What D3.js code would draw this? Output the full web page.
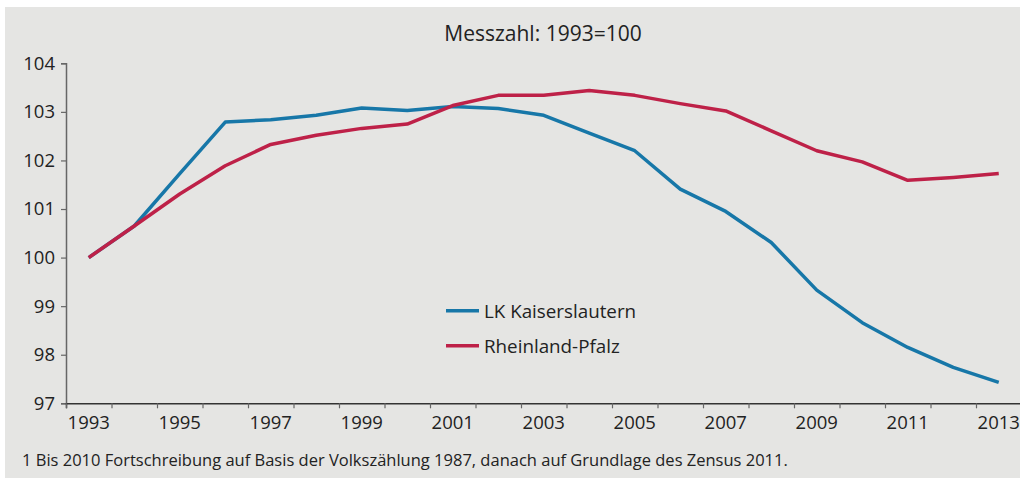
<!DOCTYPE html>
<html><head><meta charset="utf-8">
<script src="https://cdn.jsdelivr.net/npm/d3@7"></script>
<style>
html,body{margin:0;padding:0;background:#fff;}
svg{display:block;font-family:"Open Sans",sans-serif;}
</style></head>
<body><svg id="c" width="1020" height="478"></svg>
<script>
const years = d3.range(1993, 2014);
const kaiserslautern = [100.0,100.65,101.73,102.79,102.84,102.93,103.08,103.03,103.11,103.07,102.93,102.56,102.20,101.41,100.95,100.31,99.33,98.66,98.15,97.74,97.43];
const rheinlandPfalz = [100.0,100.65,101.31,101.89,102.33,102.52,102.66,102.75,103.13,103.34,103.34,103.44,103.34,103.17,103.02,102.61,102.20,101.97,101.59,101.65,101.73];
const yTicks = [97,98,99,100,101,102,103,104];
const seriesNames = ["LK Kaiserslautern","Rheinland-Pfalz"];
const colors = ["#1777a8","#be2148"];
const title = "Messzahl: 1993=100";
const footnote = "1 Bis 2010 Fortschreibung auf Basis der Volkszählung 1987, danach auf Grundlage des Zensus 2011.";

const svg = d3.select("#c");
svg.append("rect").attr("x",5).attr("y",7).attr("width",1015).attr("height",471).attr("fill","#e5e5e3");

const x0 = 66, x1 = 1021.5, yTop = 63.3, yBot = 403.3;
const x = d3.scaleBand().domain(years).range([x0,x1]).padding(0);
const xb = d3.scaleLinear().domain([0, years.length]).range([x0,x1]);
const y = d3.scaleLinear().domain([97,104]).range([yBot,yTop]);

// y axis
const ya = svg.append("g").attr("transform",`translate(${x0},0)`)
  .call(d3.axisLeft(y).tickValues(yTicks).tickSize(5).tickPadding(6).tickFormat(d3.format("d")));
ya.select(".domain").attr("stroke","#666").attr("stroke-width",1.5);
ya.selectAll(".tick line").attr("stroke","#666").attr("stroke-width",1.2);
ya.selectAll("text").attr("font-size",18.5).attr("fill","#222").attr("font-family","Open Sans");

// x axis boundary ticks
const xt = svg.append("g").attr("transform",`translate(0,${yBot})`)
  .call(d3.axisBottom(xb).tickValues(d3.range(years.length+1)).tickSize(5).tickFormat(""));
xt.select(".domain").attr("stroke","#333").attr("stroke-width",1.5);
xt.selectAll(".tick line").attr("stroke","#666").attr("stroke-width",1.2);

// x labels
const xl = svg.append("g").attr("transform",`translate(0,${yBot})`)
  .call(d3.axisBottom(x).tickValues(years.filter(d=>d%2===1)).tickSize(0).tickPadding(13));
xl.select(".domain").remove();
xl.selectAll("text").attr("font-size",18.5).attr("fill","#222").attr("font-family","Open Sans");

// lines
const line = d3.line().x((d,i)=>x(years[i])+x.bandwidth()/2).y(d=>y(d));
[kaiserslautern, rheinlandPfalz].forEach((s,i)=>{
  svg.append("path").datum(s).attr("d",line).attr("fill","none")
    .attr("stroke",colors[i]).attr("stroke-width",3.5).attr("stroke-linejoin","round");
});

// title
svg.append("text").attr("x",543).attr("y",40.5).attr("text-anchor","middle")
  .attr("font-size",21).attr("fill","#222").text(title);

// legend
const lg = svg.append("g");
seriesNames.forEach((n,i)=>{
  const ly = 310.7 + i*35;
  lg.append("line").attr("x1",446).attr("x2",479).attr("y1",ly).attr("y2",ly)
    .attr("stroke",colors[i]).attr("stroke-width",3.5);
  lg.append("text").attr("x",484).attr("y",ly+7).attr("font-size",18.8).attr("fill","#222").text(n);
});

// footnote
svg.append("text").attr("x",22).attr("y",466).attr("font-size",16.5).attr("fill","#222").text(footnote);
</script></body></html>
